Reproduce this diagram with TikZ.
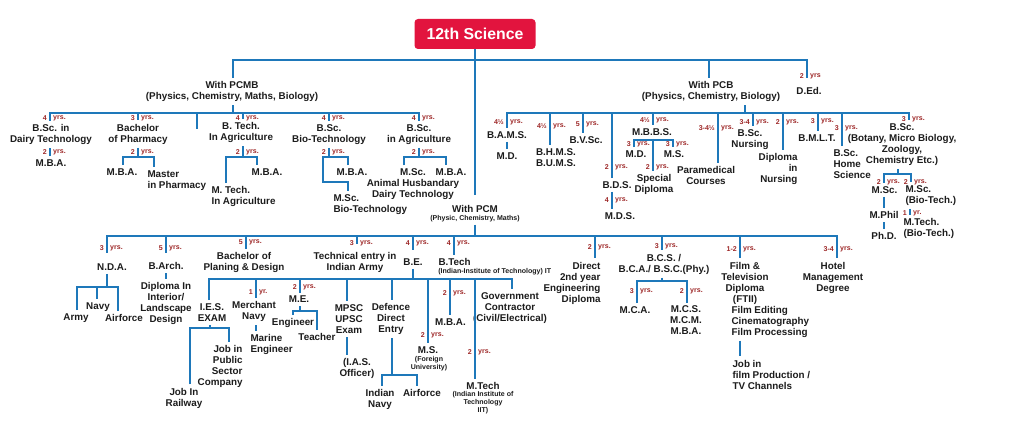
\documentclass[tikz,border=0pt]{standalone}
\usepackage{fontspec}
\setmainfont{Liberation Sans}
\usepackage{xcolor}
\usetikzlibrary{positioning}

\definecolor{linkblue}{RGB}{30,120,186}
\definecolor{yrred}{RGB}{158,40,40}
\definecolor{headred}{RGB}{226,20,62}
\definecolor{ink}{RGB}{28,28,28}

\tikzset{
  lbl/.style={font=\bfseries\fontsize{8.4}{9.4}\selectfont, align=center, inner sep=0pt, outer sep=3pt, text=ink},
  lblleft/.style={lbl, align=left, anchor=west},
  lblright/.style={lbl, align=right, anchor=east},
  note/.style={font=\bfseries\fontsize{6}{6.8}\selectfont, align=center, inner sep=0pt, outer sep=2pt, text=ink},
  yrnum/.style={font=\bfseries\fontsize{6}{6}\selectfont, text=yrred, inner sep=0pt, anchor=east},
  yrunit/.style={yrnum, anchor=west},
  link/.style={draw=linkblue, line width=2.4pt},
  bar/.style={link, line cap=rect},
  headbox/.style={fill=headred, text=white, rounded corners=3pt, minimum width=3.63cm, minimum height=0.9cm, inner sep=0pt, font=\bfseries\fontsize{13.5}{14}\selectfont},
}
% duration beside a stub: name, x, y, number, unit
\newcommand\dur[5]{%
  \node[yrnum] (#1n) at (#2-3,#3) {#4};
  \node[yrunit] (#1u) at (#2+3,#3) {#5};}

\begin{document}
\begin{tikzpicture}[x=0.03cm, y=-0.03cm]
    \path[use as bounding box, fill=white] (0,0) rectangle (1013,431);

    % top level
    \node[headbox] (root) at (475,34) {12th Science};
    \node[lbl] (pcmb) at (232,91.5) {With PCMB\\(Physics, Chemistry, Maths, Biology)};
    \node[lbl] (pcb) at (711,91.5) {With PCB\\(Physics, Chemistry, Biology)};
    \node[lbl] (ded) at (809,91) {D.Ed.};
    \node[lbl] (pcm) at (475,209) {With PCM};
    \node[note] (pcmnote) at (475,219) {(Physic, Chemistry, Maths)};

    \draw[bar] (233,60) -- (807,60);
    \draw[link, shorten >=6pt] (root.south) -- (root.south |- pcm.north);
    \draw[link] (233,60) -- (233,0 |- pcmb.north);
    \draw[link] (709,60) -- (709,0 |- pcb.north);
    \draw[link, shorten >=5pt] (807,60) -- (807,0 |- ded.north);
    \dur{ded}{807}{76}{2}{yrs}

    % with PCMB
    \node[lbl] (dairy) at (51,134.5) {B.Sc. in\\Dairy Technology};
    \node[lbl] (dairymba) at (51,163) {M.B.A.};
    \node[lbl] (pharm) at (138,134) {Bachelor\\of Pharmacy};
    \node[lbl] (pharmmba) at (122,172) {M.B.A.};
    \node[lblleft] (mpharm) at (144,180.5) {Master\\in Pharmacy};
    \node[lbl] (btagri) at (241,132.5) {B. Tech.\\In Agriculture};
    \node[lbl] (btagrimba) at (267,172) {M.B.A.};
    \node[lblleft] (mtagri) at (208,196.5) {M. Tech.\\In Agriculture};
    \node[lbl] (bscbio) at (329,134.5) {B.Sc.\\Bio-Technology};
    \node[lbl] (bsciomba) at (352,172) {M.B.A.};
    \node[lblleft] (mscbio) at (330,205) {M.Sc.\\Bio-Technology};
    \node[lbl] (bscagri) at (419,134.5) {B.Sc.\\in Agriculture};
    \node[lbl] (agrimsc) at (413,184.5) {M.Sc.\\Animal Husbandary\\Dairy Technology};
    \node[lbl] (agrimba) at (451,172) {M.B.A.};

    \draw[link] (233,0 |- pcmb.south) -- (233,113);
    \draw[bar] (50,113) -- (419,113);
    \coordinate (stub) at (197,129);
    \draw[link] (197,113) -- (stub);
    \draw[link] (50,113) -- (50,0 |- dairy.north);
    \draw[link] (50,0 |- dairy.south) -- (50,0 |- dairymba.north);
    \draw[link] (138,113) -- (138,0 |- pharm.north);
    \draw[link] (138,0 |- pharm.south) -- (138,157);
    \draw[link] (123,0 |- pharmmba.north) |- (154,157) -- (154,0 |- mpharm.north);
    \draw[link] (243,113) -- (243,0 |- btagri.north);
    \draw[link] (243,0 |- btagri.south) -- (243,157);
    \draw[link] (226,0 |- mtagri.north) |- (257,157) -- (257,0 |- btagrimba.north);
    \draw[link] (329,113) -- (329,0 |- bscbio.north);
    \draw[link] (329,0 |- bscbio.south) -- (329,157);
    \draw[link] (348,0 |- bsciomba.north) -- (348,157) -- (323,157) -- (323,182) -- (348,182) -- (348,0 |- mscbio.north);
    \draw[link] (419,113) -- (419,0 |- bscagri.north);
    \draw[link] (419,0 |- bscagri.south) -- (419,157);
    \draw[link] (404,0 |- agrimsc.north) |- (446,157) -- (446,0 |- agrimba.north);

    \dur{a1}{50}{118}{4}{yrs.}
    \dur{a2}{138}{118}{3}{yrs.}
    \dur{a3}{243}{118}{4}{yrs.}
    \dur{a4}{329}{118}{4}{yrs.}
    \dur{a5}{419}{118}{4}{yrs.}
    \dur{a6}{50}{152}{2}{yrs.}
    \dur{a7}{138}{152}{2}{yrs.}
    \dur{a8}{243}{152}{2}{yrs.}
    \dur{a9}{329}{152}{2}{yrs.}
    \dur{a10}{419}{152}{2}{yrs.}

    % with PCB
    \node[lbl] (bams) at (507,135) {B.A.M.S.};
    \node[lbl] (bamsmd) at (507,156) {M.D.};
    \node[lbl] (bhms) at (556,157.5) {B.H.M.S.\\B.U.M.S.};
    \node[lbl] (bvsc) at (586,140) {B.V.Sc.};
    \node[lbl] (bds) at (617,185) {B.D.S.};
    \node[lbl] (mds) at (620,216) {M.D.S.};
    \node[lbl] (mbbs) at (652,132) {M.B.B.S.};
    \node[lbl] (mbmd) at (636,154) {M.D.};
    \node[lbl] (mbms) at (674,154) {M.S.};
    \node[lbl] (special) at (654,184.5) {Special\\Diploma};
    \node[lbl] (para) at (706,175.5) {Paramedical\\Courses};
    \node[lbl] (nursing) at (750,139.5) {B.Sc.\\Nursing};
    \node[lblright] (dipnurse) at (801,169) {Diploma\\in\\Nursing};
    \node[lbl] (bmlt) at (817,138) {B.M.L.T.};
    \node[lblleft] (home) at (830,164.5) {B.Sc.\\Home\\Science};
    \node[lbl] (botany) at (902,144.5) {B.Sc.\\(Botany, Micro Biology,\\Zoology,\\Chemistry Etc.)};
    \node[lbl] (msc) at (884.5,190) {M.Sc.};
    \node[lblleft] (msbt) at (902,195.5) {M.Sc.\\(Bio-Tech.)};
    \node[lbl] (mphil) at (884,215) {M.Phil};
    \node[lbl] (phd) at (884,236) {Ph.D.};
    \node[lblleft] (mtbt) at (900,228.5) {M.Tech.\\(Bio-Tech.)};

    \draw[link] (745,0 |- pcb.south) -- (745,113);
    \draw[bar] (507,113) -- (909,113);
    \draw[link] (507,113) -- (507,0 |- bams.north);
    \draw[link] (507,0 |- bams.south) -- (507,0 |- bamsmd.north);
    \draw[link] (550,113) -- (550,0 |- bhms.north);
    \draw[link] (583,113) -- (583,0 |- bvsc.north);
    \draw[link] (612,113) -- (612,0 |- bds.north);
    \draw[link] (612,0 |- bds.south) -- (612,0 |- mds.north);
    \draw[link] (653,113) -- (653,0 |- mbbs.north);
    \draw[link] (653,0 |- mbbs.south) -- (653,0 |- special.north);
    \draw[link] (634,0 |- mbmd.north) |- (673,140) -- (673,0 |- mbms.north);
    \draw[link] (718,113) -- (718,0 |- para.north);
    \draw[link] (753,113) -- (753,0 |- nursing.north);
    \draw[link] (783,113) -- (783,0 |- dipnurse.north);
    \draw[link] (818,113) -- (818,0 |- bmlt.north);
    \draw[link] (842,113) -- (842,0 |- home.north);
    \draw[link] (909,113) -- (909,0 |- botany.north);
    \draw[link] (898,0 |- botany.south) -- (898,174);
    \draw[link] (884,0 |- msc.north) |- (911,174) -- (911,0 |- msbt.north);
    \draw[link] (884,0 |- msc.south) -- (884,0 |- mphil.north);
    \draw[link] (884,0 |- mphil.south) -- (884,0 |- phd.north);
    \draw[link] (910,0 |- msbt.south) -- (910,0 |- mtbt.north);

    \dur{b1}{507}{122}{4½}{yrs.}
    \dur{b2}{550}{126}{4½}{yrs.}
    \dur{b3}{583}{124}{5}{yrs.}
    \dur{b4}{612}{167}{2}{yrs.}
    \dur{b5}{612}{200}{4}{yrs.}
    \dur{b6}{653}{120}{4½}{yrs.}
    \dur{b7}{634}{144}{3}{yrs.}
    \dur{b8}{673}{144}{3}{yrs.}
    \dur{b9}{653}{167}{2}{yrs.}
    \dur{b10}{718}{128}{3-4½}{yrs.}
    \dur{b11}{753}{122}{3-4}{yrs.}
    \dur{b12}{783}{122}{2}{yrs.}
    \dur{b13}{818}{121}{3}{yrs.}
    \dur{b14}{842}{128}{3}{yrs.}
    \dur{b15}{909}{119}{3}{yrs.}
    \dur{b16}{884}{182}{2}{yrs.}
    \dur{b17}{911}{182}{2}{yrs.}
    \dur{b18}{910}{213}{1}{yr.}

    % with PCM
    \node[lbl] (nda) at (112,267) {N.D.A.};
    \node[lbl] (army) at (76,318) {Army};
    \node[lbl] (navy) at (98,307) {Navy};
    \node[lbl] (airf) at (124,318) {Airforce};
    \node[lbl] (barch) at (166,266) {B.Arch.};
    \node[lbl] (interior) at (166,303.5) {Diploma In\\Interior/\\Landscape\\Design};
    \node[lbl] (planning) at (244,262.5) {Bachelor of\\Planing \& Design};
    \node[lbl] (techentry) at (355,262.5) {Technical entry in\\Indian Army};
    \node[lbl] (be) at (413,262) {B.E.};
    \node[lblleft] (btech) at (435,262) {B.Tech};
    \node[note, anchor=west] (btechnote) at (436,272) {(Indian-Institute of Technology) IT};
    \node[lblright] (direct) at (604,283) {Direct\\2nd year\\Engineering\\Diploma};
    \node[lbl] (bcs) at (664,264) {B.C.S. /\\B.C.A./ B.S.C.(Phy.)};
    \node[lbl] (mca) at (635,310) {M.C.A.};
    \node[lbl] (mcs) at (686,320.5) {M.C.S.\\M.C.M.\\M.B.A.};
    \node[lbl] (film) at (745,283) {Film \&\\Television\\Diploma\\(FTII)};
    \node[lblleft] (filmwork) at (728,321.5) {Film Editing\\Cinematography\\Film Processing};
    \node[lblleft] (filmjob) at (729,374.5) {Job in\\film Production /\\TV Channels};
    \node[lbl] (hotel) at (833,277.5) {Hotel\\Management\\Degree};

    \draw[link] (pcm.south |- pcmnote.south) -- (pcm.south |- 0,236);
    \draw[bar] (107,236) -- (837,236);
    \draw[link, shorten >=6pt] (107,236) -- (107,0 |- nda.north);
    \draw[link] (107,0 |- nda.south) -- (107,287);
    \draw[link] (77,0 |- army.north) |- (118,287) -- (118,0 |- airf.north);
    \draw[link] (97,287) -- (97,0 |- navy.north);
    \draw[link, shorten >=5pt] (166,236) -- (166,0 |- barch.north);
    \draw[link] (166,0 |- barch.south) -- (166,0 |- interior.north);
    \draw[link] (246,236) -- (246,0 |- planning.north);
    \draw[link, shorten >=4pt] (357,236) -- (357,0 |- techentry.north);
    \draw[link, shorten >=4pt] (413,236) -- (be.north);
    \draw[link] (454,236) -- (454,0 |- btech.north);
    \draw[link] (595,236) -- (595,0 |- direct.north);
    \draw[link] (662,236) -- (662,0 |- bcs.north);
    \draw[link] (662,0 |- bcs.south) -- (662,281);
    \draw[link] (637,0 |- mca.north) |- (687,281) -- (687,0 |- mcs.north);
    \draw[link] (740,236) -- (740,0 |- film.north);
    \draw[link] (740,0 |- filmwork.south) -- (740,0 |- filmjob.north);
    \draw[link] (837,236) -- (837,0 |- hotel.north);

    \dur{c1}{107}{248}{3}{yrs.}
    \dur{c2}{166}{248}{5}{yrs.}
    \dur{c3}{246}{242}{5}{yrs.}
    \dur{c4}{357}{243}{3}{yrs.}
    \dur{c5}{413}{243}{4}{yrs.}
    \dur{c6}{454}{243}{4}{yrs.}
    \dur{c7}{595}{247}{2}{yrs.}
    \dur{c8}{662}{246}{3}{yrs.}
    \dur{c9}{740}{249}{1-2}{yrs.}
    \dur{c10}{837}{249}{3-4}{yrs.}
    \dur{c11}{637}{291}{3}{yrs.}
    \dur{c12}{687}{291}{2}{yrs.}

    % after B.E.
    \node[lbl] (ies) at (212,312.5) {I.E.S.\\EXAM};
    \node[lbl] (railway) at (184,398) {Job In\\Railway};
    \node[lblright] (psu) at (246,366.5) {Job in\\Public\\Sector\\Company};
    \node[lbl] (merchant) at (254,311.5) {Merchant\\Navy};
    \node[lblleft] (marine) at (247,344.5) {Marine\\Engineer};
    \node[lbl] (me) at (299,299.5) {M.E.};
    \node[lbl] (engr) at (293,323) {Engineer};
    \node[lbl] (teacher) at (317,337) {Teacher};
    \node[lbl] (mpsc) at (349,319) {MPSC\\UPSC\\Exam};
    \node[lbl] (ias) at (357,368.5) {(I.A.S.\\Officer)};
    \node[lbl] (defence) at (391,319) {Defence\\Direct\\Entry};
    \node[lbl] (inavy) at (380,399.5) {Indian\\Navy};
    \node[lbl] (daf) at (422,393) {Airforce};
    \node[lbl] (ms) at (428,350) {M.S.};
    \node[note] (msnote) at (429,364) {(Foreign\\University)};
    \node[lbl] (bemba) at (450.5,322) {M.B.A.};
    \node[lbl] (mtech) at (483,386) {M.Tech};
    \node[note] (mtechnote) at (483,403) {(Indian Institute of\\Technology\\IIT)};
    \node[lbl] (govt) at (510,308) {Government\\Contractor\\(Civil/Electrical)};

    \draw[link] (be.south) -- (be.south |- 0,279);
    \draw[bar] (209,279) -- (512,279);
    \draw[link] (209,279) -- (209,0 |- ies.north);
    \draw[link] (210,0 |- ies.south) -- (210,328);
    \draw[link] (190,0 |- railway.north) |- (229,328) -- (229,0 |- psu.north);
    \draw[link] (256,279) -- (256,0 |- merchant.north);
    \draw[link] (256,0 |- merchant.south) -- (256,0 |- marine.north);
    \draw[link] (300,279) -- (300,0 |- me.north);
    \draw[link] (300,0 |- me.south) -- (300,311);
    \draw[link] (293,0 |- engr.north) |- (317,311) -- (317,0 |- teacher.north);
    \draw[link] (347,279) -- (347,0 |- mpsc.north);
    \draw[link] (347,0 |- mpsc.south) -- (347,0 |- ias.north);
    \draw[link] (392,279) -- (392,0 |- defence.north);
    \draw[link] (392,0 |- defence.south) -- (392,375);
    \draw[link] (382,0 |- inavy.north) |- (417,375) -- (417,0 |- daf.north);
    \draw[link] (428,279) -- (428,0 |- ms.north);
    \draw[link] (450,279) -- (450,0 |- bemba.north);
    \draw[link] (475,279) -- (475,0 |- mtech.north);
    \draw[link] (512,279) -- (512,0 |- govt.north);

    \dur{e1}{256}{292}{1}{yr.}
    \dur{e2}{300}{287}{2}{yrs.}
    \dur{e3}{428}{335}{2}{yrs.}
    \dur{e4}{450}{293}{2}{yrs.}
    \dur{e5}{475}{352}{2}{yrs.}
\end{tikzpicture}
\end{document}
